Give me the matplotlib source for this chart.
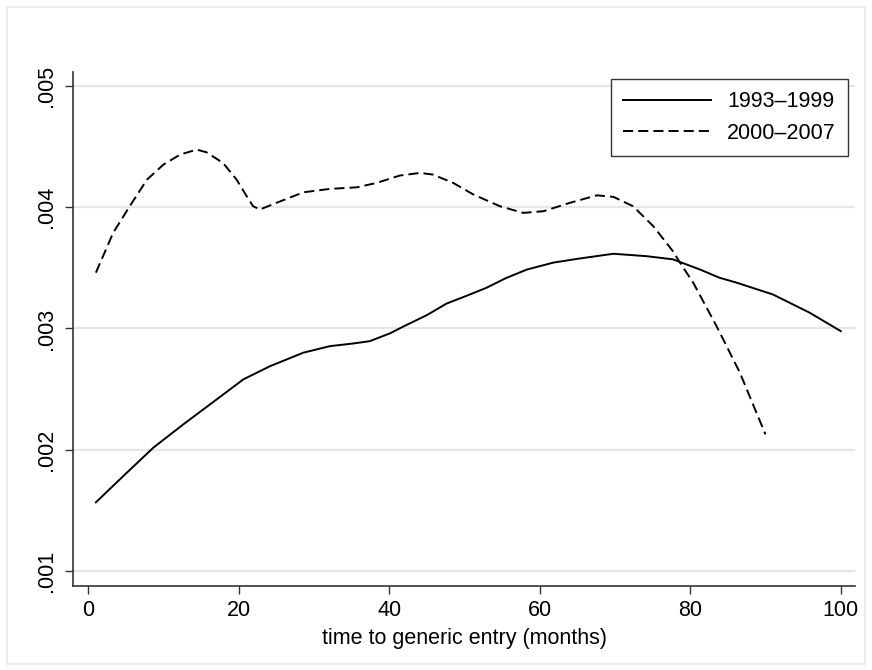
import matplotlib
matplotlib.use("Agg")
import matplotlib.pyplot as plt
from matplotlib.patches import Rectangle

plt.rcParams['font.family'] = ['Liberation Sans', 'DejaVu Sans']

# 1993-1999 series (months, density)
x_early = [1, 4.65, 8.64, 12.62, 17.06, 20.6, 24.15, 28.57, 32.1, 35.2, 37.4,
           40.1, 42, 45, 47.6, 50.3, 52.9, 55.5, 58.3, 61.8, 65.3, 69.8, 74.2,
           77.7, 81.3, 83.9, 86.2, 91.0, 95.9, 100]
y_early = [0.001566, 0.001783, 0.002017, 0.002209, 0.002415, 0.00258,
           0.002689, 0.0028, 0.002854, 0.002876, 0.002895, 0.00296, 0.00302,
           0.00311, 0.003205, 0.00327, 0.003335, 0.003415, 0.003486, 0.003543,
           0.003577, 0.003616, 0.003596, 0.00357, 0.003486, 0.003418, 0.003377,
           0.00328, 0.003129, 0.002978]

# 2000-2007 series
x_late = [1.0, 3.3, 5.5, 7.8, 9.97, 12.2, 14.4, 15.7, 17.9, 19.7, 21.05, 21.9,
          22.8, 25.0, 28.6, 32.1, 35.7, 38.3, 41.4, 44.1, 45.8, 48.5, 51.2,
          54.7, 57.8, 60.5, 64.0, 67.6, 69.8, 72.4, 75.1, 77.7, 78.6, 80.4,
          83.5, 86.6, 90.0]
y_late = [0.00346, 0.003789, 0.004008, 0.004228, 0.004351, 0.004434, 0.004475,
          0.004453, 0.004365, 0.004228, 0.00409, 0.004008, 0.003981, 0.004036,
          0.004123, 0.004151, 0.004164, 0.0042, 0.004261, 0.004283, 0.004269,
          0.0042, 0.004104, 0.004008, 0.003953, 0.003967, 0.004036, 0.004098,
          0.004085, 0.004008, 0.003843, 0.003637, 0.003546, 0.003377,
          0.003019, 0.002635, 0.002126]

yticks = [0.001, 0.002, 0.003, 0.004, 0.005]
ytick_labels = [".001", ".002", ".003", ".004", ".005"]
xticks = [0, 20, 40, 60, 80, 100]

fig = plt.figure(figsize=(8.72, 6.70), dpi=100)
ax = fig.add_axes([73.3 / 872, 84 / 670, (855 - 73.3) / 872, (586 - 72) / 670])

ax.plot(x_early, y_early, color="black", lw=1.4, solid_joinstyle="round",
        label="1993\u20131999")
ax.plot(x_late, y_late, color="black", lw=1.4, dashes=(5.2, 2.6),
        dash_joinstyle="round", label="2000\u20132007")

ax.set_xlim(-2, 101.9)
ax.set_ylim(0.000876, 0.005115)
ax.set_xticks(xticks)
ax.set_yticks(yticks)
ax.set_yticklabels(ytick_labels, rotation=90, va="center")
ax.grid(axis="y", color="#e6e6e6", lw=1.6)
ax.set_axisbelow(True)
for side in ["top", "right"]:
    ax.spines[side].set_visible(False)
for side in ["left", "bottom"]:
    ax.spines[side].set_color("#333333")
    ax.spines[side].set_linewidth(1.2)
ax.tick_params(direction="out", length=6, width=1, color="#333333",
               labelsize=15.5)
ax.tick_params(axis="y", pad=6)
ax.tick_params(axis="x", pad=4)
ax.set_xlabel("time to generic entry (months)", fontsize=15.5, labelpad=5)

leg = ax.legend(loc="upper right", bbox_to_anchor=(847.7 / 872, (670 - 79.3) / 670),
                bbox_transform=fig.transFigure, borderaxespad=0, fontsize=15.5,
                handlelength=4.1, handletextpad=0.75, fancybox=False,
                edgecolor="#333333", framealpha=1, borderpad=0.55)
leg.get_frame().set_linewidth(1.0)

fig.patches.append(Rectangle((6.5 / 872, 6.5 / 670), (865 - 6.5) / 872,
                             (663 - 6.5) / 670, transform=fig.transFigure,
                             fill=False, edgecolor="#ebebeb", lw=1.5))

fig.savefig("out.png", dpi=100)
